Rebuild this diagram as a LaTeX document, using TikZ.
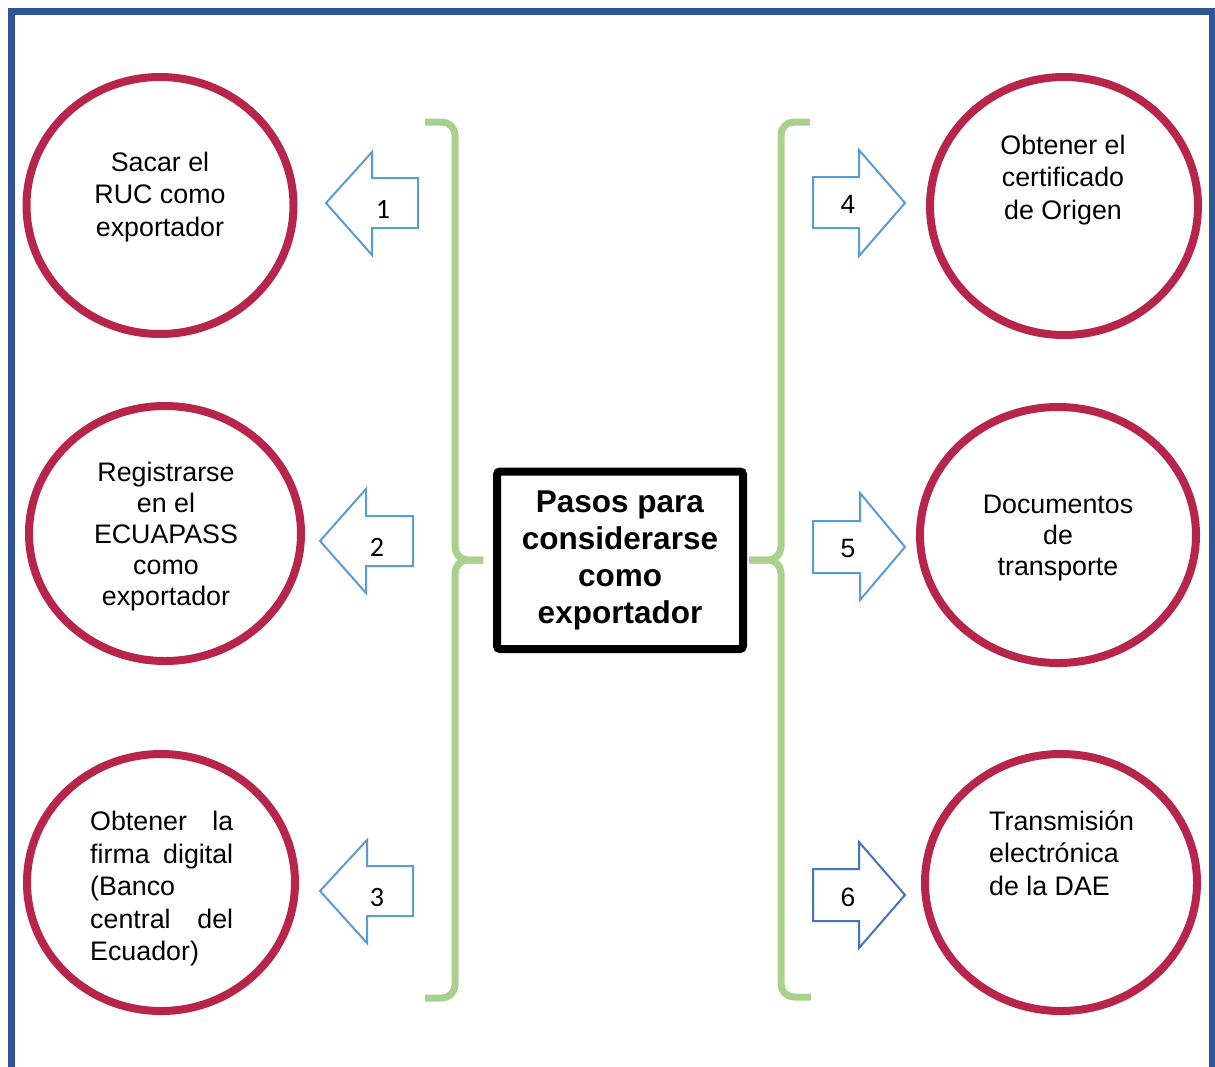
\documentclass[tikz,border=0pt]{standalone}
\usepackage{fontspec}
\setmainfont{Liberation Sans}
\newfontfamily\calfont{Carlito}
\usetikzlibrary{shapes.geometric}
\definecolor{framecol}{HTML}{2F5597}
\definecolor{circcol}{HTML}{B7254A}
\definecolor{bracecol}{HTML}{A9D18E}
\definecolor{arrowcol}{HTML}{5B9BD5}
\definecolor{arrowdark}{HTML}{4472C4}
\tikzset{
  stepcirc/.style={ellipse, draw=circcol, line width=8pt, inner sep=0pt, fill=white},
  circtext/.style={inner sep=0pt, font=\fontsize{26.8}{32.5}\selectfont},
  circtextb/.style={inner sep=0pt, font=\fontsize{26.8}{31}\selectfont},
  bracepath/.style={draw=bracecol, line width=7pt, rounded corners=13pt},
  arrowshape/.style={draw=arrowcol, line width=2pt, fill=white, line join=miter},
  numtextL/.style={inner sep=0pt, font=\calfont\fontsize{28}{30}\selectfont},
  numtextR/.style={inner sep=0pt, font=\fontsize{26.5}{30}\selectfont},
  mainbox/.style={draw=black, line width=8pt, rounded corners=3pt, inner sep=0pt,
    minimum width=246pt, minimum height=177.5pt, align=center,
    font=\bfseries\fontsize{31.5}{37}\selectfont}
}
\begin{document}
\begin{tikzpicture}[x=1pt,y=-1pt]
\useasboundingbox (0,0) rectangle (1215,1066);
\clip (0,0) rectangle (1215,1066);
\fill[white] (0,0) rectangle (1215,1066);
% frame
\draw[framecol, line width=7pt] (11,1090) -- (11,11) -- (1212,11) -- (1212,1090);

% circles
\node[stepcirc, minimum width=267pt, minimum height=257pt] (c1) at (160,205.5) {};
\node[stepcirc, minimum width=272pt, minimum height=255pt] (c2) at (165,533.5) {};
\node[stepcirc, minimum width=268pt, minimum height=257pt] (c3) at (161,882.5) {};
\node[stepcirc, minimum width=268pt, minimum height=258pt] (c4) at (1064,206) {};
\node[stepcirc, minimum width=276pt, minimum height=256pt] (c5) at (1058,535) {};
\node[stepcirc, minimum width=272pt, minimum height=257pt] (c6) at (1061,882.5) {};

% circle texts
\node[circtext, align=center] (t1) at (160,197) {Sacar el\\RUC como\\exportador};
\node[circtextb, align=center] (t2) at (166,537) {Registrarse\\en el\\ECUAPASS\\como\\exportador};
\node[circtext, align=left, text width=143pt, anchor=west] (t3) at (90,889)
  {Obtener\hfill la\\firma\hfill digital\\(Banco\\central\hfill del\\Ecuador)};
\node[circtext, align=center] (t4) at (1063,180) {Obtener el\\certificado\\de Origen};
\node[circtextb, align=center] (t5) at (1058,538) {Documentos\\de\\transporte};
\node[circtext, align=left, anchor=west] (t6) at (989,853) {Transmisión\\electrónica\\de la DAE};

% central box
\node[mainbox] (center) at (620,560.25) {Pasos para\\considerarse\\como\\exportador};

% braces
\coordinate (lbtop) at (425,122);
\coordinate (lbbot) at (425,998);
\coordinate (lbtip) at (483,560);
\coordinate (rbtop) at (810,122);
\coordinate (rbbot) at (811,997);
\coordinate (rbtip) at (749,560);
\draw[bracepath] (lbtop) -- (455,122) -- (455,560) -- (lbtip);
\draw[bracepath] (lbtip) -- (455,560) -- (455,998) -- (lbbot);
\draw[bracepath] (rbtop) -- (781,122) -- (781,560) -- (rbtip);
\draw[bracepath] (rbtip) -- (781,560) -- (781,997) -- (rbbot);

% arrows (left)
\draw[arrowshape] (326,203) -- (372,152) -- (372,178) -- (418,178) -- (418,228) -- (372,228) -- (372,255) -- cycle;
\draw[arrowshape] (320,541) -- (366,489) -- (366,516) -- (413,516) -- (413,566) -- (366,566) -- (366,593) -- cycle;
\draw[arrowshape] (320,891) -- (367,840) -- (367,866) -- (413,866) -- (413,916) -- (367,916) -- (367,943) -- cycle;
% arrows (right)
\draw[arrowshape] (813,177) -- (859,177) -- (859,150) -- (905,203) -- (859,256) -- (859,228) -- (813,228) -- cycle;
\draw[arrowshape] (813,521) -- (860,521) -- (860,493) -- (905,547) -- (860,600) -- (860,573) -- (813,573) -- cycle;
\draw[arrowshape, draw=arrowdark] (813,869) -- (859,869) -- (859,842) -- (905,895) -- (859,948) -- (859,921) -- (813,921) -- cycle;

% arrow numbers
\node[numtextL] (n1) at (383,209) {1};
\node[numtextL] (n2) at (377,547) {2};
\node[numtextL] (n3) at (377,897) {3};
\node[numtextR] (n4) at (848,204) {4};
\node[numtextR] (n5) at (848,549) {5};
\node[numtextR] (n6) at (848,897) {6};
\end{tikzpicture}
\end{document}
